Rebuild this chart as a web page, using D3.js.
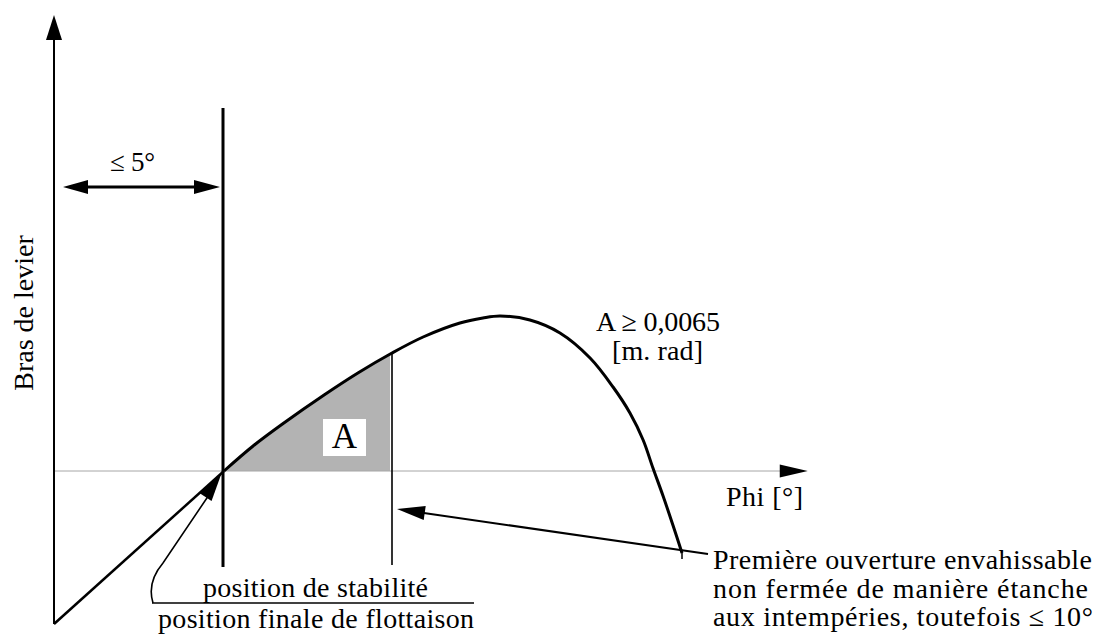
<!DOCTYPE html>
<html>
<head>
<meta charset="utf-8">
<script src="https://cdn.jsdelivr.net/npm/d3@7"></script>
<style>
  body { margin: 0; background: #fff; }
</style>
</head>
<body>
<svg id="chart" width="1097" height="640"></svg>
<script>
// righting lever curve (phi in degrees, lever in m)
const phi = [0, 5.03, 5.89, 6.8, 7.99, 8.99, 10, 10.92, 12.01, 12.69, 13.2, 14.08, 14.97, 15.86, 16.54, 17.04, 17.43, 17.72, 18.02, 18.31, 18.58];
const gz  = [-0.153, 0, 0.025, 0.048, 0.076, 0.098, 0.118, 0.134, 0.148, 0.153, 0.155, 0.151, 0.138, 0.113, 0.084, 0.058, 0.031, 0.003, -0.025, -0.054, -0.082];

const phiMax = 22.3;     // end of the Phi axis
const gzMax = 0.456;     // end of the lever axis
const stablePhi = 5;     // position de stabilité
const openPhi = 10;      // première ouverture

const yTitle = 'Bras de levier';
const xTitle = 'Phi [°]';
const gapLabel = '≤ 5°';
const areaLabel = ['A ≥ 0,0065', '[m. rad]'];
const noteLines = ['Première ouverture envahissable', 'non fermée de manière étanche', 'aux intempéries, toutefois ≤ 10°'];
const bottomLines = ['position de stabilité', 'position finale de flottaison'];

const svg = d3.select('#chart')
  .attr('font-family', '"Liberation Serif", "Times New Roman", "DejaVu Serif", serif');

const x = d3.scaleLinear().domain([0, 10]).range([54, 392]);
const y = d3.scaleLinear().domain([0, 0.1]).range([471, 371]);

const pts = phi.map((p, i) => ({ phi: p, gz: gz[i] }));
const straight = pts.filter(d => d.phi <= 5.03);   // capsized side, drawn straight
const bent = pts.filter(d => d.phi >= 5.03);

function arrowHead(tipX, tipY, fromX, fromY, len, half) {
  const a = Math.atan2(tipY - fromY, tipX - fromX);
  const bx = tipX - len * Math.cos(a), by = tipY - len * Math.sin(a);
  const nx = -Math.sin(a) * half, ny = Math.cos(a) * half;
  return `M${tipX},${tipY}L${bx + nx},${by + ny}L${bx - nx},${by - ny}Z`;
}

// shaded area A between stability and first opening
svg.append('clipPath').attr('id', 'clipA')
  .append('rect')
  .attr('x', x(stablePhi)).attr('y', 0)
  .attr('width', x(openPhi) - x(stablePhi) - 2).attr('height', y(0));

const curve = d3.curveCatmullRom.alpha(0.5);
const line = d3.line().x(d => x(d.phi)).y(d => y(d.gz)).curve(curve);
const area = d3.area().x(d => x(d.phi)).y0(y(0)).y1(d => y(d.gz)).curve(curve);

svg.append('path')
  .attr('d', area(bent))
  .attr('clip-path', 'url(#clipA)')
  .attr('fill', '#b3b3b3');

// Phi axis (thin grey)
svg.append('line')
  .attr('x1', x(0)).attr('x2', x(phiMax) - 20)
  .attr('y1', y(0)).attr('y2', y(0))
  .attr('stroke', '#a6a6a6').attr('stroke-width', 1);
svg.append('path').attr('d', arrowHead(x(phiMax), y(0), x(0), y(0), 28, 6.5));

// lever axis
svg.append('line')
  .attr('x1', x(0)).attr('x2', x(0))
  .attr('y1', y(gz[0])).attr('y2', y(gzMax) + 20)
  .attr('stroke', '#000').attr('stroke-width', 2);
svg.append('path').attr('d', arrowHead(x(0), y(gzMax), x(0), y(0), 25, 8));

// stability vertical
svg.append('line')
  .attr('x1', x(stablePhi)).attr('x2', x(stablePhi))
  .attr('y1', 108).attr('y2', 567)
  .attr('stroke', '#000').attr('stroke-width', 3);

// first opening vertical
svg.append('line')
  .attr('x1', x(openPhi)).attr('x2', x(openPhi))
  .attr('y1', y(gz[6])).attr('y2', 565)
  .attr('stroke', '#000').attr('stroke-width', 1.6);

// curve: straight on the left, bent beyond the stability point
svg.append('path')
  .attr('d', d3.line().x(d => x(d.phi)).y(d => y(d.gz))(straight))
  .attr('fill', 'none')
  .attr('stroke', '#000')
  .attr('stroke-width', 2.5);
svg.append('path')
  .attr('d', line(bent))
  .attr('fill', 'none')
  .attr('stroke', '#000')
  .attr('stroke-width', 3)
  .attr('stroke-linejoin', 'round');

// small tick at the end of the curve
const endP = pts[pts.length - 1];
svg.append('line')
  .attr('x1', x(endP.phi)).attr('x2', x(endP.phi))
  .attr('y1', y(endP.gz) - 2).attr('y2', y(endP.gz) + 6)
  .attr('stroke', '#000').attr('stroke-width', 1.5);

// ≤ 5° double arrow
const arrY = 187;
svg.append('line')
  .attr('x1', x(0) + 30).attr('x2', x(stablePhi) - 28)
  .attr('y1', arrY).attr('y2', arrY)
  .attr('stroke', '#000').attr('stroke-width', 3);
svg.append('path').attr('d', arrowHead(x(0) + 9, arrY, x(stablePhi), arrY, 25, 7));
svg.append('path').attr('d', arrowHead(x(stablePhi) - 3, arrY, x(0), arrY, 26, 7));
svg.append('text')
  .attr('x', 110).attr('y', 171).attr('font-size', 27)
  .attr('textLength', 45).attr('lengthAdjust', 'spacing')
  .text(gapLabel);

// white box with A
svg.append('rect')
  .attr('x', 323).attr('y', 419).attr('width', 43).attr('height', 37)
  .attr('fill', '#fff');
svg.append('text')
  .attr('x', 344.5).attr('y', 448)
  .attr('text-anchor', 'middle').attr('font-size', 35)
  .text('A');

// A ≥ 0,0065 label
svg.append('text').attr('x', 596).attr('y', 331).attr('font-size', 28)
  .attr('textLength', 124).attr('lengthAdjust', 'spacing').text(areaLabel[0]);
svg.append('text').attr('x', 612).attr('y', 360).attr('font-size', 28)
  .attr('textLength', 91).attr('lengthAdjust', 'spacing').text(areaLabel[1]);

// axis titles
svg.append('text')
  .attr('transform', 'translate(33,313) rotate(-90)')
  .attr('text-anchor', 'middle').attr('font-size', 28)
  .text(yTitle);
svg.append('text').attr('x', 726).attr('y', 506).attr('font-size', 28)
  .attr('textLength', 77).attr('lengthAdjust', 'spacing').text(xTitle);

// pointer to first opening
const tip = [x(openPhi) + 5, 509];
const tail = [708, 554];
svg.append('line')
  .attr('x1', tail[0]).attr('y1', tail[1]).attr('x2', tip[0] + 20).attr('y2', tip[1] + 3)
  .attr('stroke', '#000').attr('stroke-width', 2);
svg.append('path').attr('d', arrowHead(tip[0], tip[1], tail[0], tail[1], 28, 7));

// notes on the right
svg.append('g').selectAll('text')
  .data(noteLines)
  .join('text')
  .attr('x', 713)
  .attr('y', (d, i) => 569 + i * 28.5)
  .attr('font-size', 28)
  .attr('textLength', (d, i) => [379, 375, 380][i])
  .attr('lengthAdjust', 'spacing')
  .text(d => d);

// bottom texts and underline
svg.append('text').attr('x', 203).attr('y', 597).attr('font-size', 28)
  .attr('textLength', 225).attr('lengthAdjust', 'spacing').text(bottomLines[0]);
svg.append('line')
  .attr('x1', 152).attr('x2', 474).attr('y1', 603).attr('y2', 603)
  .attr('stroke', '#000').attr('stroke-width', 1.6);
svg.append('text').attr('x', 158).attr('y', 628).attr('font-size', 28)
  .attr('textLength', 316).attr('lengthAdjust', 'spacing').text(bottomLines[1]);

// curved pointer to the stability point
const stab = [x(stablePhi), y(0) + 1];
svg.append('path')
  .attr('d', `M153,603 C149,590 152,576 163,563 L${stab[0] - 10},${stab[1] + 17}`)
  .attr('fill', 'none').attr('stroke', '#000').attr('stroke-width', 1.6);
svg.append('path').attr('d', arrowHead(stab[0] - 1, stab[1], 163, 563, 30, 7));
</script>
</body>
</html>
